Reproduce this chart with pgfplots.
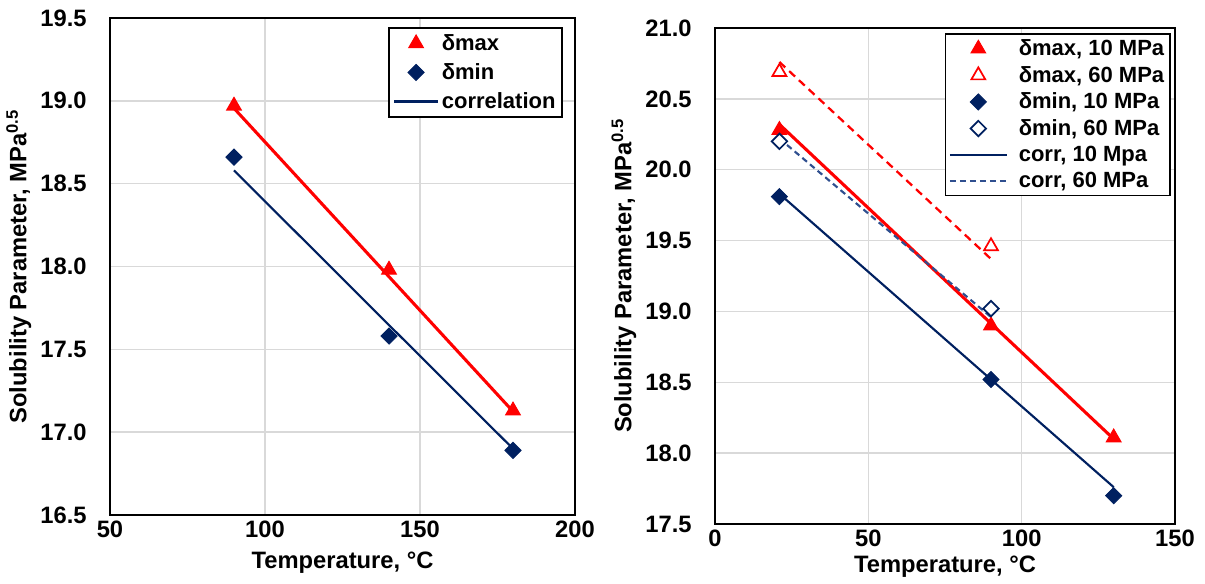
\documentclass[border=0pt]{standalone}
\usepackage{fontspec}
\setmainfont{Liberation Sans}
\usepackage{pgfplots}
\pgfplotsset{compat=1.18}
\definecolor{myred}{HTML}{FF0000}
\definecolor{navy}{HTML}{002060}
\definecolor{dblue}{HTML}{2F4F8F}
\definecolor{gridc}{HTML}{D9D9D9}
\newcommand{\bigfont}{\fontsize{17.8}{21}\selectfont\bfseries}
\newcommand{\legfont}{\fontsize{16.5}{19}\selectfont\bfseries}
\pgfplotsset{
 base/.style={
  scale only axis,
  axis line style={line width=1.4pt},
  grid=major, major grid style={gridc, line width=1.1pt},
  major tick length=0pt,
  tick label style={font=\bigfont},
  label style={font=\bigfont},
  /pgf/number format/assume math mode=true,
  yticklabel style={/pgf/number format/.cd, fixed, fixed zerofill, precision=1, /tikz/.cd, xshift=-14pt},
  xticklabel style={yshift=-1pt},
  legend style={font=\legfont, draw=black, line width=1.2pt, inner sep=2pt},
  legend cell align=left,
  xlabel={Temperature, °C},
  ylabel={Solubility Parameter, MPa\textsuperscript{0.5}},
 },
 mylegA/.style={legend image code/.code={\draw[mark repeat=2,mark phase=2,##1] plot coordinates {(0cm,0cm) (0.58cm,0cm) (1.16cm,0cm)};}},
 mylegB/.style={legend image code/.code={\draw[mark repeat=2,mark phase=2,##1] plot coordinates {(0cm,0cm) (0.75cm,0cm) (1.5cm,0cm)};\path[draw=none,fill=none] (0cm,0cm) -- (1.5cm+7pt,0cm);}},
 tri/.style={only marks, mark=triangle*, mark size=6.3pt, color=myred, mark options={line width=0.8pt}},
 otri/.style={only marks, mark=triangle*, mark size=6pt, draw=myred, fill=white, mark options={line width=1.3pt, fill=white, draw=myred}},
 dia/.style={only marks, mark=square*, mark size=4.3pt, color=navy, mark options={rotate=45, line width=0.6pt}},
 odia/.style={only marks, mark=square*, mark size=4.1pt, mark options={rotate=45, line width=1.3pt, draw=navy, fill=white}},
}
\begin{document}
\begin{tikzpicture}
\useasboundingbox (0,0) rectangle (903.75pt,438pt);
% ---------- left panel ----------
\begin{axis}[base,
  at={(82.5pt,51.75pt)}, anchor=south west,
  width=348.75pt, height=372.75pt,
  xmin=50, xmax=200, ymin=16.5, ymax=19.5,
  xtick={50,100,150,200}, ytick={16.5,17,17.5,18,18.5,19,19.5},
  xlabel style={yshift=-4pt},
  legend style={at={(rel axis cs:1,1)}, anchor=north east, xshift=-9pt, yshift=-6.75pt, row sep=4.3pt, inner sep=3pt},
]
\addplot[myred, line width=2.3pt, forget plot] coordinates {(90,18.955) (180,17.125)};
\addplot[tri, mylegA] coordinates {(90,18.97) (140,17.98) (180,17.13)};
\addlegendentry{δmax}
\addplot[dia, mylegA] coordinates {(90,18.66) (140,17.58) (180,16.89)};
\addlegendentry{δmin}
\addplot[navy, line width=1.6pt, mylegA] coordinates {(90,18.58) (180,16.90)};
\addlegendentry{correlation}
\end{axis}
% ---------- right panel ----------
\begin{axis}[base,
  at={(536.25pt,45pt)}, anchor=south west,
  width=345pt, height=372pt,
  xmin=0, xmax=150, ymin=17.5, ymax=21,
  xtick={0,50,100,150}, ytick={17.5,18,18.5,19,19.5,20,20.5,21},
  legend style={at={(rel axis cs:1,1)}, anchor=north east, xshift=-3pt, yshift=-3.75pt, row sep=2.5pt, inner sep=2.5pt},
]
\addplot[myred, line width=2.3pt, forget plot] coordinates {(21,20.32) (130,18.10)};
\addplot[myred, line width=1.7pt, dash pattern=on 6pt off 4pt, forget plot] coordinates {(21,20.76) (90,19.37)};
\addplot[tri, mylegB] coordinates {(21,20.28) (90,18.90) (130,18.11)};
\addlegendentry{δmax, 10 MPa}
\addplot[otri, mylegB] coordinates {(21,20.69) (90,19.46)};
\addlegendentry{δmax, 60 MPa}
\addplot[dia, mylegB] coordinates {(21,19.81) (90,18.52) (130,17.70)};
\addlegendentry{δmin, 10 MPa}
\addplot[odia, mylegB] coordinates {(21,20.20) (90,19.02)};
\addlegendentry{δmin, 60 MPa}
\addplot[navy, line width=1.6pt, mylegB] coordinates {(21,19.83) (130,17.76)};
\addlegendentry{corr, 10 Mpa}
\addplot[dblue, line width=1.6pt, dash pattern=on 4.5pt off 3pt, mylegB] coordinates {(21,20.22) (90,18.96)};
\addlegendentry{corr, 60 MPa}
\end{axis}
\end{tikzpicture}
\end{document}
